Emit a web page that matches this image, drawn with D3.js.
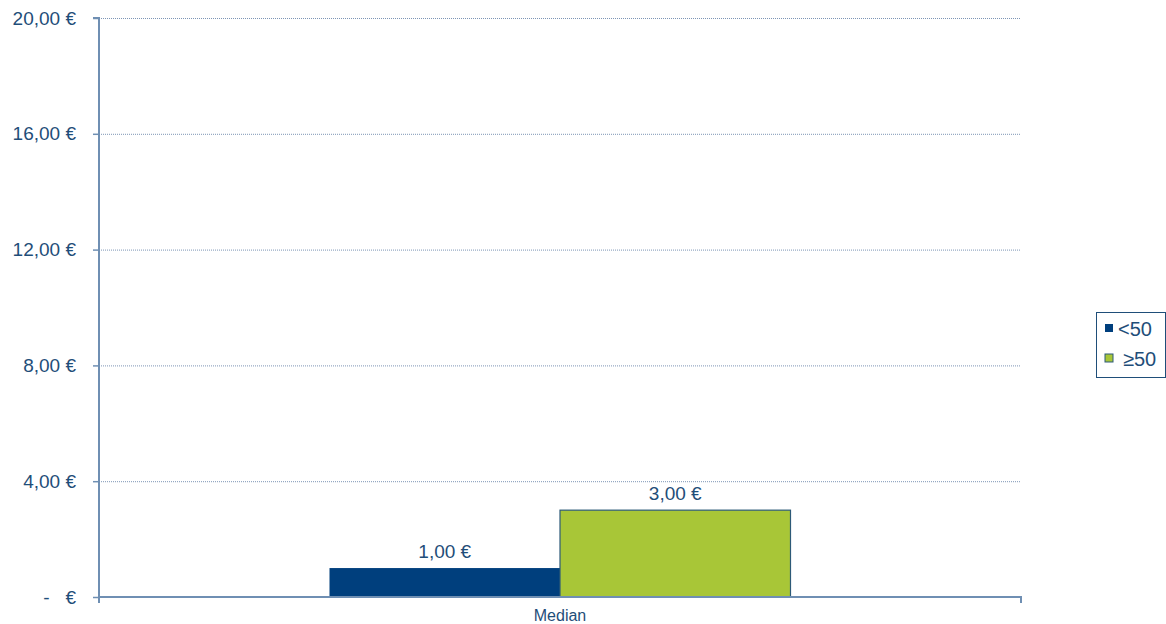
<!DOCTYPE html>
<html>
<head>
<meta charset="utf-8">
<script src="https://cdn.jsdelivr.net/npm/d3@7"></script>
<style>
    body { margin: 0; background: #fff; }
    svg { display: block; font-family: "Liberation Sans", Arial, sans-serif; }
</style>
</head>
<body>
<div id="chart"></div>
<script>
const categories = ['Median'];
const seriesNames = ['<50', '≥50'];
const seriesValues = [[1], [3]];
const yTicks = [0, 4, 8, 12, 16, 20];
const colors = ['#003f7d', '#a8c637'];

const width = 1166, height = 624;
const margin = {top: 18, right: 145, bottom: 27, left: 99};
const textColor = '#1f4e79';
const axisColor = '#6f8fb3';

const fmt = v => v === 0 ? '-   €' : d3.format(',.2f')(v).replace('.', ',') + ' €';

const svg = d3.select('#chart').append('svg')
    .attr('width', width)
    .attr('height', height);

const x0 = d3.scaleBand()
    .domain(categories)
    .range([margin.left, width - margin.right])
    .paddingInner(0).paddingOuter(0.5);

const x1 = d3.scaleBand()
    .domain(seriesNames)
    .range([0, x0.bandwidth()]);

const y = d3.scaleLinear()
    .domain([0, 20])
    .range([height - margin.bottom, margin.top]);

// gridlines
svg.append('g')
    .selectAll('line')
    .data(yTicks.filter(d => d > 0))
    .enter().append('line')
    .attr('x1', margin.left)
    .attr('x2', width - margin.right)
    .attr('y1', d => y(d) + 0.5)
    .attr('y2', d => y(d) + 0.5)
    .style('stroke', '#7d95b5')
    .style('stroke-width', 1)
    .style('stroke-dasharray', '1,1');

// bars
const groups = svg.append('g')
    .selectAll('g')
    .data(seriesNames.map((s, i) => ({name: s, i, values: seriesValues[i]})))
    .enter().append('g');

groups.selectAll('rect')
    .data(d => d.values.map((v, j) => ({v, cat: categories[j], name: d.name, i: d.i})))
    .enter().append('rect')
    .attr('x', d => x0(d.cat) + x1(d.name))
    .attr('y', d => y(d.v))
    .attr('width', x1.bandwidth())
    .attr('height', d => y(0) - y(d.v))
    .style('fill', d => colors[d.i])
    .style('stroke', d => d.i === 1 ? '#2d5a78' : 'none')
    .style('stroke-width', 1.2);

groups.selectAll('text')
    .data(d => d.values.map((v, j) => ({v, cat: categories[j], name: d.name})))
    .enter().append('text')
    .attr('x', d => x0(d.cat) + x1(d.name) + x1.bandwidth() / 2)
    .attr('y', d => y(d.v) - 10)
    .attr('text-anchor', 'middle')
    .style('font-size', '19px')
    .style('fill', textColor)
    .text(d => fmt(d.v));

// y axis
const yAxis = svg.append('g')
    .attr('transform', `translate(${margin.left},0)`)
    .call(d3.axisLeft(y).tickValues(yTicks).tickSize(6).tickPadding(17).tickFormat(fmt));
yAxis.select('.domain').style('stroke', axisColor).style('stroke-width', 2).attr('d', `M-6,${y(20)}H0V${y(0)}`);
yAxis.selectAll('.tick line').style('stroke', axisColor).style('stroke-width', 1.5);
yAxis.selectAll('.tick text')
    .style('font-size', '19px')
    .style('white-space', 'pre')
    .style('fill', textColor)
    .style('font-family', '"Liberation Sans", Arial, sans-serif');

// x axis
const xAxis = svg.append('g')
    .attr('transform', `translate(0,${y(0)})`)
    .call(d3.axisBottom(x0).tickSize(0).tickPadding(13));
xAxis.select('.domain').style('stroke', axisColor).style('stroke-width', 2)
    .attr('d', `M${margin.left},6V0H${width - margin.right}V6`);
xAxis.selectAll('.tick text')
    .style('font-size', '16px')
    .style('fill', textColor)
    .style('font-family', '"Liberation Sans", Arial, sans-serif');

// legend
const legend = svg.append('g').attr('transform', 'translate(1096,312)');
legend.append('rect')
    .attr('x', 0.5).attr('y', 0.5)
    .attr('width', 69).attr('height', 65)
    .style('fill', '#fff')
    .style('stroke', textColor)
    .style('stroke-width', 1);
const items = legend.selectAll('g.item')
    .data(seriesNames)
    .enter().append('g')
    .attr('transform', (d, i) => `translate(9,${12 + i * 30})`);
items.append('rect')
    .attr('width', 8).attr('height', 8)
    .style('fill', (d, i) => colors[i])
    .style('stroke', (d, i) => i === 1 ? '#2d5a78' : 'none');
items.append('text')
    .attr('x', (d, i) => i === 0 ? 13 : 18)
    .attr('y', 12)
    .style('font-size', '20px')
    .style('fill', textColor)
    .text(d => d);
</script>
</body>
</html>
